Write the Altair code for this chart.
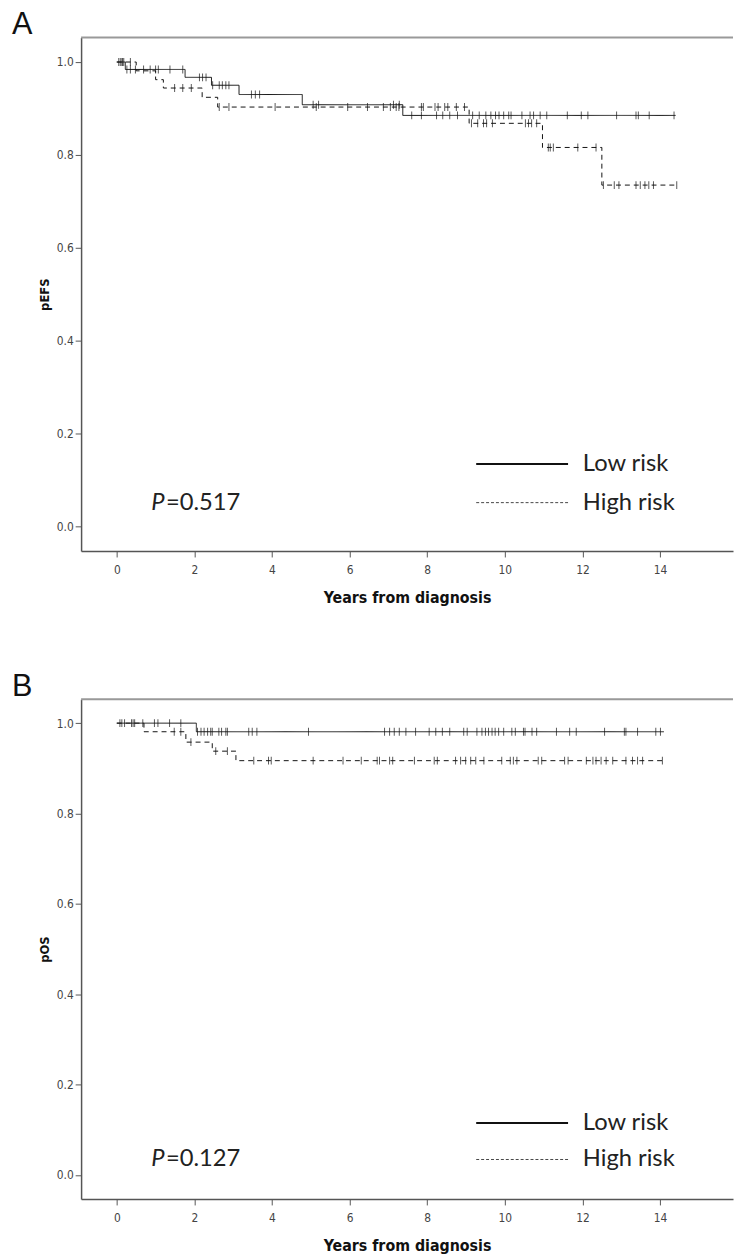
import altair as alt
import numpy as np
import pandas as pd

# ---------------- Panel A: pEFS ----------------
a_low_t = [0.0, 0.22, 1.76, 2.44, 3.15, 4.78, 7.37]
a_low_s = [1.0, 0.984, 0.967, 0.950, 0.930, 0.908, 0.885]
a_low_end = 14.4
a_low_cens = [0.09, 0.13, 0.18, 0.26, 0.35, 0.48, 0.69, 0.86, 1.00, 1.07, 1.37, 1.70,
              2.13, 2.21, 2.30, 2.47, 2.64, 2.72, 2.81, 2.89, 3.47, 3.57, 3.68,
              5.06, 5.20, 7.13, 7.28,
              7.60, 7.85, 8.24, 8.40, 8.58, 8.78, 9.17, 9.34, 9.51, 9.64, 9.76, 9.85,
              9.97, 10.10, 10.16, 10.44, 10.65, 10.74, 10.91, 11.08, 11.61, 11.97,
              12.14, 12.88, 13.38, 13.44, 13.72, 14.36]

a_high_t = [0.0, 0.5, 1.0, 1.2, 2.2, 2.6, 9.08, 10.97, 12.5]
a_high_s = [1.0, 0.981, 0.962, 0.944, 0.924, 0.903, 0.868, 0.816, 0.735]
a_high_end = 14.45
a_high_cens = [0.05, 0.15, 0.35, 1.49, 1.70, 1.92,
               2.64, 2.89, 4.08, 5.14, 5.95, 6.46, 6.87, 7.05, 7.20, 7.27, 7.85, 7.90,
               8.20, 8.28, 8.45, 8.53, 8.75, 8.96,
               9.14, 9.30, 9.45, 9.53, 9.68, 10.53, 10.61, 10.69, 10.82,
               11.12, 11.17, 11.25, 11.88, 12.35,
               12.54, 12.82, 12.94, 13.38, 13.49, 13.61, 13.71, 13.83, 14.43]

# ---------------- Panel B: pOS ----------------
b_low_t = [0.0, 2.05]
b_low_s = [1.0, 0.981]
b_low_end = 14.1
b_low_cens = [0.08, 0.13, 0.20, 0.38, 0.42, 0.46, 0.67, 0.97, 1.06, 1.36, 1.65,
              2.08, 2.17, 2.25, 2.34, 2.42, 2.46, 2.63, 2.70, 2.81, 2.85, 3.40, 3.49, 3.61,
              4.94, 6.90, 7.03, 7.15, 7.28, 7.45, 7.70, 8.05, 8.22, 8.39, 8.58, 8.94,
              9.03, 9.28, 9.41, 9.50, 9.58, 9.67, 9.75, 9.84, 9.97, 10.18, 10.27, 10.48,
              10.52, 10.70, 10.82, 11.33, 11.67, 11.84, 12.57, 13.08, 13.12, 13.42,
              13.89, 14.01]

b_high_t = [0.0, 0.7, 1.78, 2.46, 3.07]
b_high_s = [1.0, 0.981, 0.958, 0.938, 0.917]
b_high_end = 14.15
b_high_cens = [1.48, 1.65, 1.91, 2.55, 2.85,
               3.53, 3.91, 3.98, 5.06, 5.83, 6.30, 6.71, 6.77, 7.03, 7.11,
               7.67, 8.18, 8.26, 8.73, 8.86, 8.99, 9.12, 9.25, 9.46, 9.92, 10.14,
               10.22, 10.31, 10.86, 10.95, 11.54, 11.63, 12.10, 12.27, 12.35, 12.48,
               12.61, 12.78, 13.12, 13.29, 13.42, 13.55, 14.06]

groups = ["Low risk", "High risk"]
p_values = ["0.517", "0.127"]
y_titles = ["pEFS", "pOS"]
panel_labels = ["A", "B"]

x_ticks = [0, 2, 4, 6, 8, 10, 12, 14]
y_ticks = [0.0, 0.2, 0.4, 0.6, 0.8, 1.0]

NARROW = "Liberation Sans Narrow, DejaVu Sans Condensed, Arial Narrow, sans-serif"
W = 660
TXT = 24


def km_frames(t, s, end, cens, group):
    line = pd.DataFrame({"time": list(t) + [end], "surv": list(s) + [s[-1]], "group": group})
    idx = np.searchsorted(np.array(t), np.array(cens), side="right") - 1
    cdf = pd.DataFrame({"time": cens, "surv": np.array(s)[idx], "group": group})
    return line, cdf


def panel(low, high, pval, ytitle, label, height, row1, row2, p_x):
    l1, c1 = km_frames(*low, groups[0])
    l2, c2 = km_frames(*high, groups[1])
    lines = pd.concat([l1, l2], ignore_index=True)
    cens = pd.concat([c1, c2], ignore_index=True)

    xs = alt.Scale(domain=[-0.92, 15.88], nice=False, zero=False)
    ys = alt.Scale(domain=[-0.053, 1.053], nice=False, zero=False)
    xax = alt.Axis(values=x_ticks, title="Years from diagnosis", grid=False, format="d")
    yax = alt.Axis(values=y_ticks, title=ytitle, grid=False, format=".1f")

    line_chart = alt.Chart(lines).mark_line(
        interpolate="step-after", strokeWidth=1, color="#111"
    ).encode(
        x=alt.X("time:Q", scale=xs, axis=xax),
        y=alt.Y("surv:Q", scale=ys, axis=yax),
        strokeDash=alt.StrokeDash(
            "group:N",
            scale=alt.Scale(domain=groups, range=[[1, 0], [5, 4]]),
            legend=None,
        ),
    )

    tick_chart = alt.Chart(cens).mark_tick(
        orient="vertical", size=8, thickness=1, color="#111"
    ).encode(
        x=alt.X("time:Q", scale=xs),
        y=alt.Y("surv:Q", scale=ys),
    )

    one = pd.DataFrame({"k": [0]})
    top = alt.Chart(one).mark_rule(color="#999", strokeWidth=2).encode(
        x=alt.value(0), x2=alt.value(W), y=alt.value(0)
    )

    # panel letter
    lab = alt.Chart(pd.DataFrame({"l": [label]})).mark_text(
        font="Liberation Sans", fontSize=31, align="left", baseline="alphabetic", color="#111"
    ).encode(text="l:N", x=alt.value(-70), y=alt.value(-3))

    # legend drawn as annotation
    leg_df = pd.DataFrame({"g": groups})
    leg_low = alt.Chart(leg_df.iloc[[0]]).mark_rule(color="#111", strokeWidth=2).encode(
        x=alt.value(400), x2=alt.value(493), y=alt.value(row1)
    )
    leg_high = alt.Chart(leg_df.iloc[[1]]).mark_rule(
        color="#444", strokeWidth=1, strokeDash=[3, 2]
    ).encode(x=alt.value(400), x2=alt.value(493), y=alt.value(row2))
    leg_t1 = alt.Chart(leg_df.iloc[[0]]).mark_text(
        font="Lato", fontSize=TXT, align="left", baseline="middle", color="#222"
    ).encode(text="g:N", x=alt.value(508), y=alt.value(row1))
    leg_t2 = alt.Chart(leg_df.iloc[[1]]).mark_text(
        font="Lato", fontSize=TXT, align="left", baseline="middle", color="#222"
    ).encode(text="g:N", x=alt.value(508), y=alt.value(row2))

    ptxt = pd.DataFrame({"p": ["P"], "v": ["=" + pval]})
    p1 = alt.Chart(ptxt).mark_text(
        font="Lato", fontSize=TXT, fontStyle="italic", align="left", baseline="middle", color="#222"
    ).encode(text="p:N", x=alt.value(p_x), y=alt.value(row2))
    p2 = alt.Chart(ptxt).mark_text(
        font="Lato", fontSize=TXT, align="left", baseline="middle", color="#222"
    ).encode(text="v:N", x=alt.value(p_x + 15), y=alt.value(row2))

    return alt.layer(top, line_chart, tick_chart, lab, leg_low, leg_high,
                     leg_t1, leg_t2, p1, p2).properties(width=W, height=height)


chart_a = panel((a_low_t, a_low_s, a_low_end, a_low_cens),
                (a_high_t, a_high_s, a_high_end, a_high_cens),
                p_values[0], y_titles[0], panel_labels[0], 520, 432, 471, 71)
chart_b = panel((b_low_t, b_low_s, b_low_end, b_low_cens),
                (b_high_t, b_high_s, b_high_end, b_high_cens),
                p_values[1], y_titles[1], panel_labels[1], 506, 429, 466, 71)

chart = alt.vconcat(chart_a, chart_b, spacing=67).resolve_scale(
    strokeDash="independent"
).properties(
    padding={"left": 4, "top": -6, "right": 0, "bottom": 0}
).configure_view(stroke=None).configure_axis(
    domainColor="#555", domainWidth=1.5, tickColor="#555", tickSize=6, tickWidth=1,
    labelFont=NARROW, labelFontSize=12, labelColor="#444", labelPadding=2,
    titleFont=NARROW, titleFontSize=13, titleFontWeight="bold", titleColor="#111",
).configure_axisX(
    labelPadding=8, titleFontSize=16, titlePadding=14,
).configure_axisY(titlePadding=5)

chart.save("out.html", embed_options={"renderer": "svg", "actions": False})
